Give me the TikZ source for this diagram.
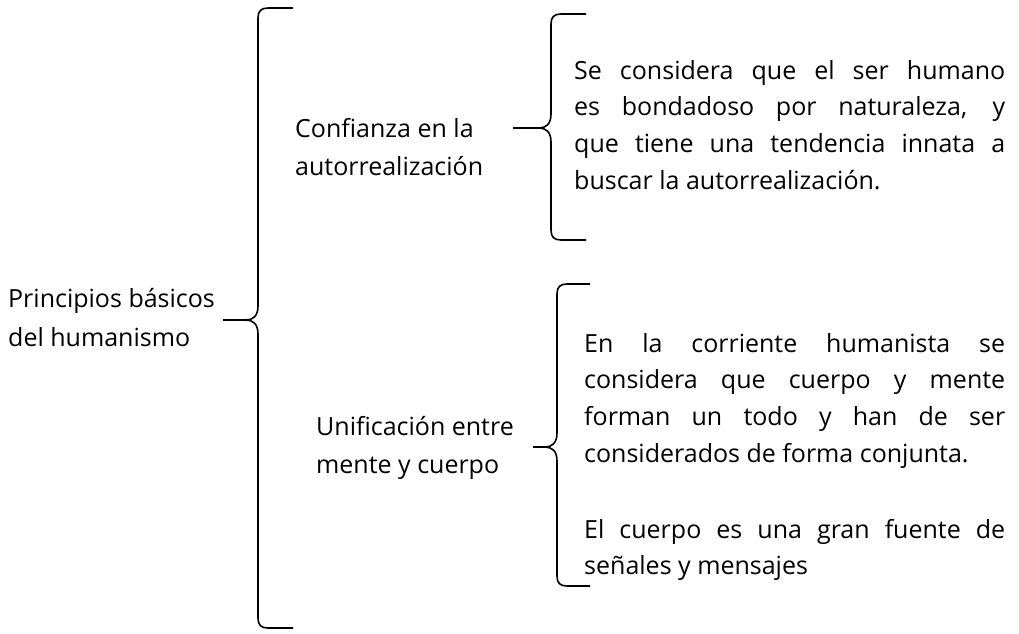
\documentclass[tikz,border=0pt]{standalone}
\usepackage{fontspec}
\setmainfont{Open Sans}
\usetikzlibrary{positioning}

\tikzset{
  bracestyle/.style={line width=1.6pt, line join=round},
  label/.style={anchor=base west, inner sep=0pt, align=left, font=\fontsize{25}{38.5}\selectfont},
  para/.style={anchor=base west, inner sep=0pt, align=justify, font=\fontsize{25}{36.8}\selectfont}
}

% #1 vertical x, #2 top, #3 bottom, #4 tip x, #5 tip y, #6 arm end x
\newcommand{\drawbrace}[6]{%
  \draw[bracestyle] (#6,#2) -- (#1+10,#2) .. controls (#1+3,#2) and (#1,#2+3) .. (#1,#2+10)
    -- (#1,#5-14) .. controls (#1,#5-4) and (#1-5,#5) .. (#1-12,#5) -- (#4,#5);
  \draw[bracestyle] (#4,#5) -- (#1-12,#5) .. controls (#1-5,#5) and (#1,#5+4) .. (#1,#5+14)
    -- (#1,#3-10) .. controls (#1,#3-3) and (#1+3,#3) .. (#1+10,#3) -- (#6,#3);
}

\begin{document}
\begin{tikzpicture}[x=1pt,y=-1pt]
\useasboundingbox (0,0) rectangle (1019,633);

% braces
\drawbrace{258}{8}{628}{223}{320}{293}
\drawbrace{551}{14}{240}{513}{128}{586}
\drawbrace{557}{284}{586}{533}{447}{590}

% labels (anchored on their last line)
\node[label] (principios) at (8,346) {Principios básicos\\del humanismo};
\node[label] (confianza) at (295,175.5) {Confianza en la\\autorrealización};
\node[label] (unificacion) at (316,473.5) {Unificación entre\\mente y cuerpo};

% descriptions
\node[para, text width=431pt] (bondad) at (574,79) {Se considera que el ser humano\linebreak es bondadoso por naturaleza, y\linebreak que tiene una tendencia innata a\linebreak buscar la autorrealización.};
\node[para, text width=421pt] (conjunto) at (584,352) {En la corriente humanista se\linebreak considera que cuerpo y mente\linebreak forman un todo y han de ser\linebreak considerados de forma conjunta.};
\node[para, text width=421pt] (senales) at (584,538) {El cuerpo es una gran fuente de\linebreak señales y mensajes};
\end{tikzpicture}
\end{document}
